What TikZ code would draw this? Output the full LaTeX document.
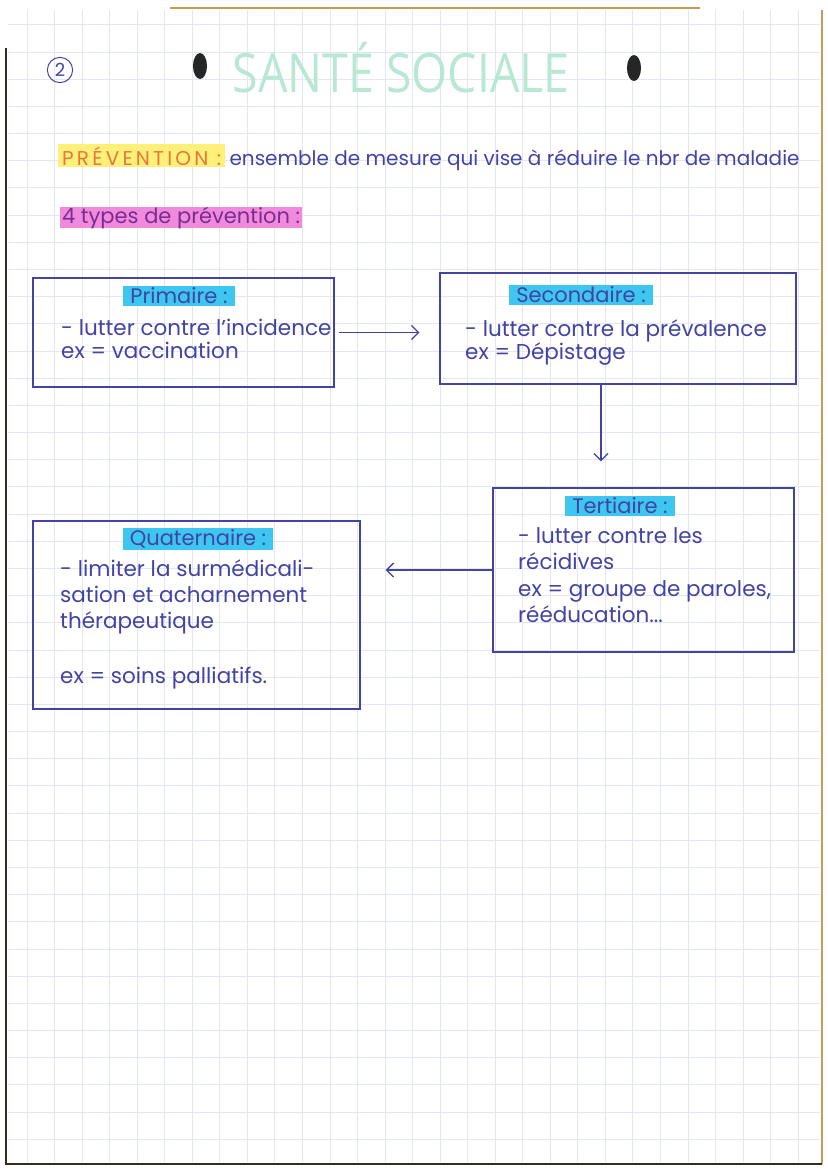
\documentclass[tikz,border=0pt]{standalone}
\usepackage{fontspec}
\setmainfont{Poppins}
\newfontfamily\titrefont{Open Sans}
\usetikzlibrary{arrows.meta,positioning}

\definecolor{ink}{HTML}{4343A3}
\definecolor{cyanfluo}{HTML}{3CC6F0}
\definecolor{jaune}{HTML}{FFF07A}
\definecolor{orangetxt}{HTML}{E8783A}
\definecolor{rose}{HTML}{F08ADF}
\definecolor{violet}{HTML}{7A2D8E}
\definecolor{menthe}{HTML}{B8E8D4}
\definecolor{grille}{HTML}{E2E7F1}
\definecolor{bord}{HTML}{3A2A1C}
\definecolor{carton}{HTML}{C89A58}

\begin{document}
\begin{tikzpicture}[x=1pt,y=-1pt,
    box/.style={draw=ink, line width=1.3pt, rectangle, inner sep=0pt},
    titre/.style={fill=cyanfluo, text=ink, inner xsep=7pt, inner ysep=1.5pt, font=\fontsize{21}{23}\selectfont},
    corps/.style={anchor=north west, align=left, text=ink, inner sep=0pt, font=\fontsize{21.5}{23}\selectfont},
    fleche/.style={draw=ink, line width=1.3pt, -{Straight Barb[length=7pt,width=14pt]}}]
    \useasboundingbox (0,0) rectangle (828,1171);
    \fill[white] (0,0) rectangle (828,1171);

    % quadrillage
    \foreach \i in {0,...,28}
        \draw[grille, line width=0.8pt] ({27+\i*27.54},10) -- ++(0,1152);
    \foreach \j in {0,...,41}
        \draw[grille, line width=0.8pt] (8,{24.8+\j*27.18}) -- ++(812,0);

    % bords de la feuille
    \draw[carton, line width=2pt] (170,8) -- (700,8);
    \draw[carton, line width=1.5pt] (822,10) -- (822,1164);
    \draw[bord, line width=2pt] (6,48) -- (6,1164) -- (822,1164);
    \fill[black!85] (200,66) ellipse (7 and 13);
    \fill[black!85] (634,68) ellipse (7 and 13);

    % en-tete
    \node[draw=ink, circle, line width=1pt, inner sep=3pt, text=ink, font=\fontsize{18}{18}\selectfont](NUM) at (60,70) {2};
    \node[text=menthe, font=\titrefont\fontsize{54}{54}\selectfont, xscale=0.86](TITRE) at (401,68) {SANTÉ SOCIALE};

    \node[anchor=base west, fill=jaune, text=orangetxt, inner xsep=4pt, inner ysep=2pt, font=\addfontfeature{LetterSpace=16}\fontsize{20}{22}\selectfont](PREV) at (58,165) {PRÉVENTION :};
    \node[base right=4pt of PREV, text=ink, inner sep=0pt, font=\fontsize{20}{22}\selectfont](DEF) {ensemble de mesure qui vise à réduire le nbr de maladie};
    \node[anchor=base west, fill=rose, text=violet, inner xsep=2pt, inner ysep=0pt, font=\fontsize{21}{23}\selectfont](TYPES) at (60,223) {4 types de prévention :};

    % les 4 cadres
    \node[box, minimum width=301pt, minimum height=109pt](PRIM) at (183.5,332.5) {};
    \node[titre](PRIMT) at (179,296) {Primaire :};
    \node[corps](PRIMC) at (61,319) {- lutter contre l'incidence\\ex = vaccination};

    \node[box, minimum width=356pt, minimum height=111pt](SEC) at (618,328.5) {};
    \node[titre](SECT) at (581,295) {Secondaire :};
    \node[corps](SECC) at (465,319) {- lutter contre la prévalence\\ex = Dépistage};

    \node[box, minimum width=301pt, minimum height=164pt](TER) at (643.5,570) {};
    \node[titre](TERT) at (620,506) {Tertiaire :};
    \node[corps, font=\fontsize{21.5}{26.5}\selectfont](TERC) at (518,527) {- lutter contre les\\récidives\\ex = groupe de paroles,\\rééducation...};

    \node[box, minimum width=327pt, minimum height=188pt](QUA) at (196.5,615) {};
    \node[titre](QUAT) at (198,539) {Quaternaire :};
    \node[corps, font=\fontsize{21.5}{26}\selectfont](QUAC) at (60,559) {- limiter la surmédicali-\\sation et acharnement\\thérapeutique\\[29pt]ex = soins palliatifs.};

    % fleches
    \coordinate (SECb) at (601,384);
    \draw[fleche, shorten <=4pt, shorten >=20pt] (PRIM.east) -- (PRIM.east -| SEC.west);
    \draw[fleche, shorten >=26pt] (SECb) -- (SECb |- TER.north);
    \draw[fleche, shorten >=25pt] (TER.west) -- (TER.west -| QUA.east);
\end{tikzpicture}
\end{document}
